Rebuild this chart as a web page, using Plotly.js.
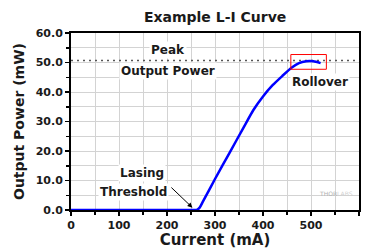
<!DOCTYPE html>
<html>
<head>
<meta charset="utf-8">
<script src="https://cdn.plot.ly/plotly-3.0.1.min.js"></script>
<style>html,body{margin:0;padding:0;background:#fff}#chart{width:369px;height:249px}</style>
</head>
<body>
<div id="chart"></div>
<script>
// Data
const currentMA = [0, 100, 200, 255, 262, 268, 275, 300, 330, 360, 380, 400, 420, 440, 460, 475, 490, 505, 520];
const powerMW   = [0, 0, 0, 0, 0, 0.8, 2.9, 10.5, 19.3, 28.1, 33.9, 38.5, 42.3, 45.4, 48.3, 49.8, 50.4, 50.4, 49.8];
const peakPower = 50.7;
const xTickVals = [0, 100, 200, 300, 400, 500, 600];
const yTickVals = [0, 10, 20, 30, 40, 50, 60];
const rolloverBox = {x0: 458, x1: 532, y0: 47.7, y1: 52.7};
const thresholdTip = {x: 253, y: 0.8};
const thresholdTail = {x: 206, y: 8.1};

const F = "DejaVu Sans, Verdana, Arial, sans-serif";

const traces = [
  {x: [0, 600], y: [peakPower, peakPower], mode: 'lines', type: 'scatter',
   line: {color: '#555555', width: 1.5, dash: '2px,4px'}, hoverinfo: 'skip'},
  {x: currentMA, y: powerMW, mode: 'lines', type: 'scatter',
   line: {color: '#0000ff', width: 2.5, shape: 'spline', smoothing: 0.6}}
];

const ann = (text, x, y, size, extra) => Object.assign({
  x, y, xref: 'x', yref: 'y', text: '<b>' + text + '</b>', showarrow: false,
  font: {family: F, size: size || 12, color: '#1a1a1a'}, bgcolor: '#ffffff', borderpad: 1
}, extra || {});

const layout = {
  width: 369, height: 249,
  margin: {l: 71, r: 10, t: 33, b: 39},
  paper_bgcolor: '#ffffff', plot_bgcolor: '#ffffff',
  showlegend: false,
  title: {text: '<b>Example L-I Curve</b>', x: 0.583, xanchor: 'center', y: 0.93, yanchor: 'middle',
          font: {family: F, size: 14, color: '#1a1a1a'}},
  xaxis: {
    range: [0, 600], tickvals: xTickVals, ticktext: xTickVals.map(String),
    ticks: 'outside', ticklen: 4, tickwidth: 1.5, tickcolor: '#000',
    showline: true, linecolor: '#000', linewidth: 2, mirror: true,
    showgrid: true, gridcolor: '#d3d3d3', gridwidth: 1, zeroline: false,
    minor: {dtick: 50, showgrid: true, gridcolor: '#d3d3d3', gridwidth: 1, ticks: 'outside', ticklen: 3, tickcolor: '#000'},
    tickfont: {family: F, size: 11, color: '#1a1a1a', weight: 'bold'},
    title: {text: '<b>Current (mA)</b>', font: {family: F, size: 15, color: '#1a1a1a'}, standoff: 4}
  },
  yaxis: {
    range: [0, 60], tickvals: yTickVals, ticktext: yTickVals.map(v => v.toFixed(1)),
    ticks: 'outside', ticklen: 4, tickwidth: 1.5, tickcolor: '#000',
    showline: true, linecolor: '#000', linewidth: 2, mirror: true,
    showgrid: true, gridcolor: '#d3d3d3', gridwidth: 1, zeroline: false,
    minor: {dtick: 5, showgrid: true, gridcolor: '#d3d3d3', gridwidth: 1, ticks: 'outside', ticklen: 3, tickcolor: '#000'},
    tickfont: {family: F, size: 11, color: '#1a1a1a', weight: 'bold'},
    title: {text: '<b>Output Power (mW)</b>', font: {family: F, size: 14, color: '#1a1a1a'}, standoff: 8}
  },
  shapes: [
    {type: 'rect', xref: 'x', yref: 'y', x0: rolloverBox.x0, x1: rolloverBox.x1, y0: rolloverBox.y0, y1: rolloverBox.y1,
     line: {color: '#ff0000', width: 1}, fillcolor: 'rgba(0,0,0,0)'}
  ],
  annotations: [
    ann('Peak', 202, 54.3),
    ann('Output Power', 202, 47.0),
    ann('Rollover', 518, 43.3),
    ann('Lasing', 147, 12.4),
    ann('Threshold', 130, 6.2),
    {x: thresholdTip.x, y: thresholdTip.y, ax: thresholdTail.x, ay: thresholdTail.y,
     xref: 'x', yref: 'y', axref: 'x', ayref: 'y', text: '', showarrow: true,
     arrowhead: 2, arrowsize: 1, arrowwidth: 1, arrowcolor: '#000'},
    {x: 0.985, y: 0.06, xref: 'paper', yref: 'paper', xanchor: 'right', showarrow: false,
     text: 'THOR<span style="color:#d0d0d0">LABS</span>', font: {family: F, size: 6, color: '#b0b0b0'}}
  ]
};

Plotly.newPlot('chart', traces, layout, {displayModeBar: false, staticPlot: true});
</script>
</body>
</html>
